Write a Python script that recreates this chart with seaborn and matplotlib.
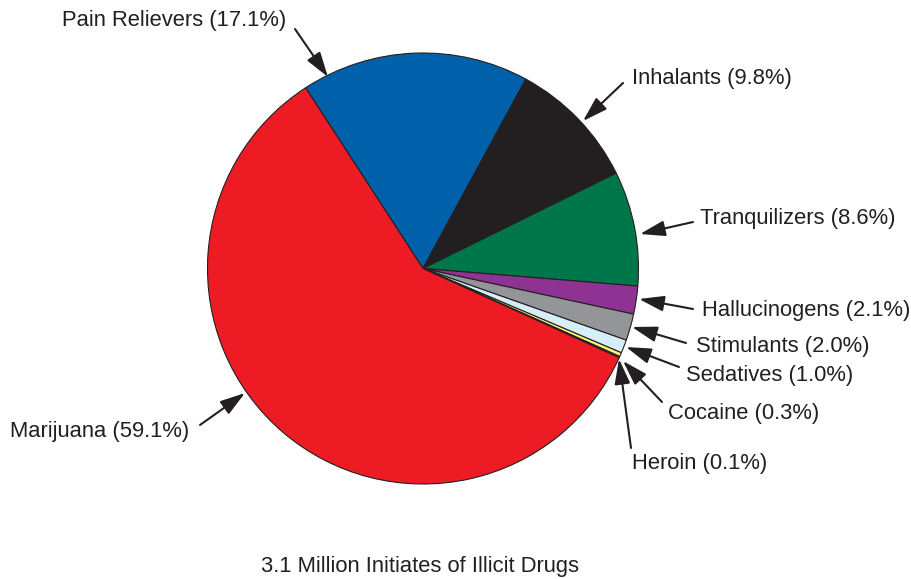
import numpy as np
import matplotlib
matplotlib.use("Agg")
import matplotlib.pyplot as plt
import seaborn as sns

# share of initiates by drug, clockwise from Pain Relievers
drugs = ["Pain Relievers", "Inhalants", "Tranquilizers", "Hallucinogens",
         "Stimulants", "Sedatives", "Cocaine", "Heroin", "Marijuana"]
shares = [17.1, 9.8, 8.6, 2.1, 2.0, 1.0, 0.3, 0.1, 59.1]
colors = ["#0061AA", "#231F20", "#00764B", "#8E3393", "#939598",
          "#D5EEF8", "#FFF57D", "#6CBE45", "#ED1C24"]
title = "3.1 Million Initiates of Illicit Drugs"

# label placement in pixel coords (text left x, text center y, arrow tail, arrow tip)
label_pos = {
    "Pain Relievers": ((62, 20), (295, 29), (328, 77)),
    "Inhalants": ((632, 78), (623, 83), (583, 121)),
    "Tranquilizers": ((700, 218), (693, 222), (640, 234)),
    "Hallucinogens": ((702, 310), (693, 309), (639, 299)),
    "Stimulants": ((696, 346), (686, 343), (632, 327)),
    "Sedatives": ((686, 375), (679, 367), (626, 347)),
    "Cocaine": ((668, 413), (662, 402), (623, 361)),
    "Heroin": ((632, 463), (631, 448), (619, 359)),
    "Marijuana": ((10, 432), (200, 425), (245, 393)),
}

sns.set_style("white")
plt.rcParams["font.family"] = ["Liberation Sans", "DejaVu Sans"]

W, H = 912, 579
fig = plt.figure(figsize=(W / 100, H / 100), dpi=100)
ax = fig.add_axes([0, 0, 1, 1])

ax.pie(shares, colors=colors, startangle=123, counterclock=False,
       center=(423, H - 268.5), radius=215.5, frame=True,
       wedgeprops=dict(edgecolor="#231F20", linewidth=0.8))
ax.set_xlim(0, W)
ax.set_ylim(0, H)
ax.set_aspect("equal")
ax.set_axis_off()

txt_color = "#231F20"
for name, val in zip(drugs, shares):
    (tx, ty), tail, tip = label_pos[name]
    ax.text(tx, H - ty, f"{name} ({val}%)", fontsize=15.8, color=txt_color,
            ha="left", va="center")
    ax.annotate("", xy=(tip[0], H - tip[1]), xytext=(tail[0], H - tail[1]),
                arrowprops=dict(arrowstyle="-|>,head_length=0.9,head_width=0.28",
                                mutation_scale=17, lw=1.5, color=txt_color,
                                shrinkA=0, shrinkB=0))

ax.text(420, H - 567, title, fontsize=15.8, color=txt_color,
        ha="center", va="center")

fig.savefig("out.png", dpi=100)
